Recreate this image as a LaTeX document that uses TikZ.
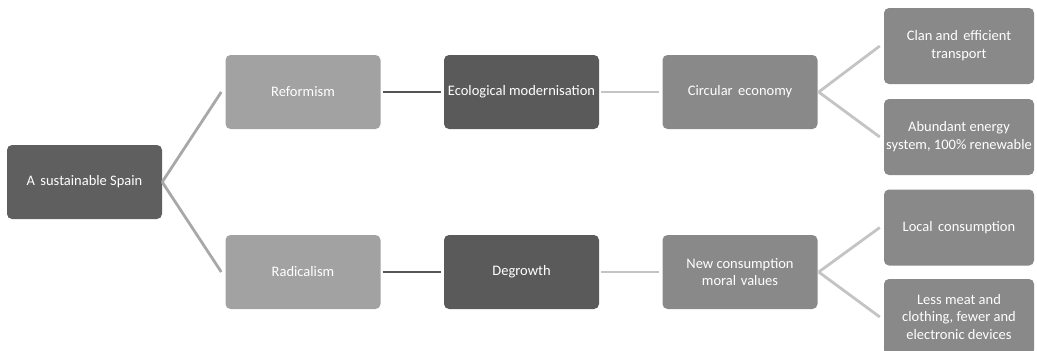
\documentclass[tikz,border=0pt]{standalone}
\usepackage{fontspec}
\setmainfont{Carlito}
\definecolor{rootfill}{HTML}{5F5F5F}
\definecolor{lightfill}{HTML}{A2A2A2}
\definecolor{darkfill}{HTML}{5A5A5A}
\definecolor{midfill}{HTML}{898989}
\definecolor{rootline}{HTML}{A8A8A8}
\definecolor{darkline}{HTML}{555555}
\definecolor{paleline}{HTML}{C4C4C4}
\tikzset{
  box/.style={rectangle, rounded corners=5pt, draw=none, text=white,
    minimum width=155pt, minimum height=74pt, align=center, inner sep=1pt,
    font=\fontsize{14.5}{17.8}\selectfont},
  leafbox/.style={box, fill=midfill, minimum width=150pt, minimum height=76pt},
  link/.style={line width=2.8pt},
}
\begin{document}
\begin{tikzpicture}[x=1pt,y=-1pt]
  \useasboundingbox (0,0) rectangle (1037,351);
  \clip (0,0) rectangle (1037,351);
  % boxes
  \node[box, fill=rootfill]  (root) at (84.5,182) {A\hspace{0.15em} sustainable Spain};
  \node[box, fill=lightfill] (ref)  at (303,92)   {Reformism};
  \node[box, fill=lightfill] (rad)  at (303,272)  {Radicalism};
  \node[box, fill=darkfill]  (eco)  at (521.5,92) {Ecological modernisation};
  \node[box, fill=darkfill]  (deg)  at (521.5,272){Degrowth};
  \node[box, fill=midfill]   (circ) at (740,92)   {Circular\hspace{0.15em} economy};
  \node[box, fill=midfill]   (cons) at (740,272)  {New consumption\\moral\hspace{0.1em} values};
  \node[leafbox] (clan)  at (959,46)  {Clan and\hspace{0.15em} efficient\\transport};
  \node[leafbox] (abund) at (959,137) {Abundant energy\\system, 100\% renewable};
  \node[leafbox] (local) at (959,227.5) {Local\hspace{0.15em} consumption};
  \node[leafbox] (meat)  at (959,317) {Less meat and\\clothing, fewer and\\electronic devices};
  % connectors
  \draw[link, rootline] (root.east) -- ([xshift=-4pt]ref.west);
  \draw[link, rootline] (root.east) -- ([xshift=-4pt]rad.west);
  \draw[link, darkline] ([xshift=2pt]ref.east) -- ([xshift=-3pt]eco.west);
  \draw[link, darkline] ([xshift=2pt]rad.east) -- ([xshift=-3pt]deg.west);
  \draw[link, paleline] ([xshift=2pt]eco.east) -- ([xshift=-3pt]circ.west);
  \draw[link, paleline] ([xshift=2pt]deg.east) -- ([xshift=-3pt]cons.west);
  \draw[link, paleline] ([xshift=1pt]circ.east) -- ([xshift=-4pt]clan.west);
  \draw[link, paleline] ([xshift=1pt]circ.east) -- ([xshift=-4pt]abund.west);
  \draw[link, paleline] ([xshift=1pt]cons.east) -- ([xshift=-4pt]local.west);
  \draw[link, paleline] ([xshift=1pt]cons.east) -- ([xshift=-4pt]meat.west);
\end{tikzpicture}
\end{document}
